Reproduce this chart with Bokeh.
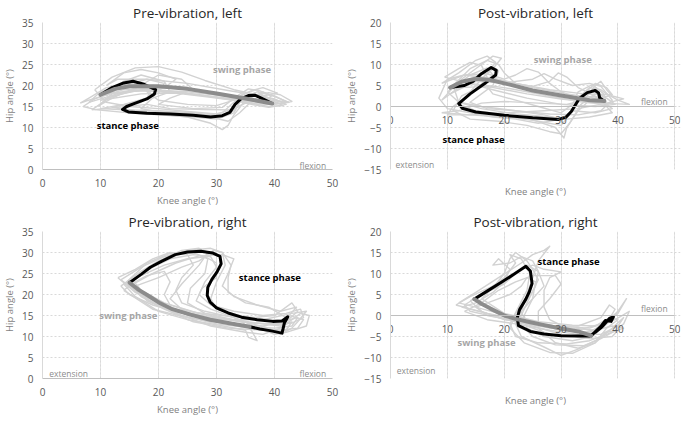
from bokeh.plotting import figure
from bokeh.models import (ColumnDataSource, Label, LinearAxis, SingleIntervalTicker,
                          FixedTicker, Range1d, Grid)
from bokeh.layouts import gridplot
from bokeh.embed import file_html
from bokeh.resources import INLINE

FONT = "Open Sans"

# ---------------- data (knee angle, hip angle) ----------------
# Pre-vibration, left
P1_TRIALS = [
    [(9,19),(12,22),(16,24.2),(20,24.5),(24,23.2),(28,21.2),(33,19),(38,17.5),(41,16.2),(39,15.5),(35,15.8),(33,14.5),(30,13.2),(25,13.8),(20,14.5),(15,15),(11,16),(9,19)],
    [(6.5,15.8),(8,17),(11,19.5),(15,20.5),(19,19.5),(18,17),(14,15.5),(10,14.5),(14,14.2),(20,14),(26,13.5),(31,12.5),(33,14),(34.5,17),(37,18.5),(40,17.5),(42,16.2),(38,16.5),(30,18),(22,19.5),(14,19),(8,16.5),(6.5,15.8)],
    [(9.5,15),(12,17),(16,19.5),(20,19),(17,16),(14,14.5),(18,13.5),(25,12.5),(29,11),(31,9.5),(32,10.5),(33,13),(35,16.5),(38,18.5),(42.5,16),(40,15.5),(33,17.2),(25,18.5),(18,19),(12,18),(9.5,15)],
    [(8.5,14.2),(13,14.8),(18,15.5),(22,14.5),(28,14.3),(32,14.2),(34,15),(36,17.5),(39,18.3),(41,17.8),(43,16.2),(40,15.6),(35,16.5),(28,17.6),(22,18.5),(17,19),(12,17.5),(8.5,14.2)],
    [(11,17.5),(14,21),(17,22.5),(21,21),(22,18.5),(19,17),(17,14.5),(22,13.2),(28,12.8),(31,13.5),(33,16),(34.5,18),(37,19),(39.5,17.5),(38,16.2),(32,17.5),(26,19),(19,20),(13,19.2),(11,17.5)],
    [(8,16),(10,18.5),(14,20),(18,21.5),(21,20.5),(20,18.2),(16,16),(12,14.8),(16,13.8),(24,13.5),(29,12.5),(32,11.5),(34,13.5),(36,16.2),(39,16.8),(41.5,15.2),(39,15.0),(33,16.5),(27,17.8),(20,19),(14,18.5),(8,16)],
    [(10,16.5),(15,18.5),(20,22.5),(24,21.5),(26,19),(22,17),(20,15.5),(26,14.5),(31,14.8),(33.5,17.5),(35.5,19.2),(37,18.8),(39,16.5),(36,16.0),(30,17.2),(24,18.2),(17,18),(10,16.5)],
    [(7,15),(9,16.8),(12,18.2),(16,18.8),(20,18.5),(24,18),(29,17.2),(33,16.5),(36,15.5),(39,14.8),(42,15.5),(40,16.8),(36,18),(34,16),(33,13.5),(30,12),(26,12.5),(20,13),(14,13.6),(9,14.3),(7,15)],
    [(11,20),(14,23),(17,23.8),(20,23),(23,21.5),(21,19.5),(18,18.5),(20,16.5),(25,15.5),(30,15.2),(33,16.5),(36,18.8),(38,19.5),(40.5,18.2),(38,17.5),(32,18.8),(25,20.5),(18,21.5),(13,21.5),(11,20)],
]
P1_STANCE = [(10,17.8),(12,19.5),(14,20.6),(15.6,21),(17.5,20.3),(19.5,19),(19.3,18),(18,16.8),(16,15.8),(14.5,15),(13.8,14.3),(14.8,13.7),(18,13.4),(22,13.2),(26,12.9),(29,12.5),(31,12.8),(32.3,13.6),(33.2,15.5),(34.2,16.8),(35.5,17.6),(36.6,17.7),(38,16.8),(39.6,15.7)]
P1_SWING = [(39.6,15.7),(35,16.9),(30,18.1),(25,19.2),(20,19.8),(15,19.8),(12.5,19.2),(10,17.8)]

# Post-vibration, left
P2_TRIALS = [
    [(9,5.5),(12,8),(15,11),(17,12),(18.5,10.5),(17,8),(15,5),(13,2),(12,0.5),(15,-1),(20,-2),(26,-3.5),(30,-4.5),(31.5,-2),(33,2),(35,4.5),(37,4),(38.5,2.5),(36,2),(31,3),(25,4.5),(19,6.5),(13,7.5),(9,5.5)],
    [(9,1.5),(11,4.5),(14,7.5),(17,9.2),(18,7.5),(15,4),(11,0),(10,-2),(14,-2),(20,-2.5),(25,-3.2),(29,-5),(30.5,-7.5),(31,-5),(33,-1),(35,1.5),(38,3),(40,1.5),(42,0.5),(37,0.8),(30,1.8),(24,3),(17,4.8),(12,4.5),(9,1.5)],
    [(10,6.5),(13,7.5),(17,7.8),(20,6.5),(22,7.5),(24,9),(26,8.2),(28,5.5),(30,3.5),(33,2),(36,2.5),(39,-0.5),(36,-1.5),(32,-1),(30,-3),(26,-4),(22,-3),(18,-2.5),(14,-1.5),(10,-0.5),(8.5,2),(10,6.5)],
    [(11,5),(14,9),(17,11),(19,10),(20,8),(22,5.5),(25,4.8),(28,6),(29.5,8),(31,7),(33,4.5),(35,3.2),(37,1.5),(39,-1.5),(35,-2.5),(31,-3),(28,-2.5),(22,-1.8),(16,-0.5),(12,1),(11,5)],
    [(9,-1.5),(12,-1),(16,0.8),(20,1.2),(26,0.8),(31,0.5),(34,1.5),(36,5),(37,6),(38,4),(39,2.5),(41,1.8),(38,0.8),(33,-0.5),(27,-1),(20,-1.5),(14,-2),(9,-1.5)],
    [(10.5,3),(14,6),(16,8),(18,9.5),(19,8.5),(18,5),(16,3),(14,1),(17,-0.5),(22,-1),(27,-2),(30,-3),(32,-1),(34,3),(36,5.5),(38,4.5),(39,2.8),(34,3),(28,4),(22,5.5),(15,6),(10.5,3)],
    [(12,6),(16,10),(18,12),(19.5,11.5),(18,9),(16,6.5),(18,3),(22,1.5),(26,0),(30,-1.5),(32,0.5),(33,3.5),(35.5,5.2),(37.5,3),(38,0.5),(34,1),(28,2.5),(20,4.5),(14,5.5),(12,6)],
    [(9.5,7),(12,9),(14,10.5),(16,9.8),(17,7),(15.5,4.5),(12.5,2.5),(11,-1),(14,-3),(19,-3.5),(24,-4.5),(28,-6),(30,-6.5),(31.5,-4),(33.5,0.5),(36,3),(38,2),(39.5,0.5),(36,0),(30,0.5),(24,2),(18,4),(13,5.8),(9.5,7)],
    [(10,3.5),(13,6.2),(15,7),(18,6.5),(21,5.8),(25,6.5),(27,7.8),(29,6.5),(32,5),(35,5.5),(37,4.8),(39,1.5),(37,-1),(33,-2),(28,-1.8),(22,-1),(16,0),(12,1),(10,3.5)],
]
P2_STANCE = [(10.5,4.5),(13,5),(14.5,6),(16,7.8),(17.7,9.3),(18.6,8.6),(18.5,7.5),(16.5,5.4),(14,3),(12,0.7),(12.6,-0.4),(15,-1.3),(20,-2.1),(25,-2.7),(29.5,-3.1),(30.8,-2.6),(31.8,-1.2),(33.2,1.9),(34.6,3.3),(36,3.8),(36.6,3.2),(36.8,2.0),(37.6,1.3)]
P2_SWING = [(37.6,1.3),(35,1.5),(30,2.6),(25,3.8),(21,5.2),(17.5,6.3),(15,6.6),(12.5,5.9),(10.5,4.5)]

# Pre-vibration, right
P3_TRIALS = [
    [(13.5,23.5),(17,26.5),(21,29),(25,30.5),(29,31),(31,30),(31.5,27),(30,23),(29,19),(30,16.5),(34,15),(39,14),(42,13.8),(44,14.5),(43,12.5),(40,12),(35,12.5),(28,14),(22,16.5),(17,20),(13.5,23.5)],
    [(14.5,23),(18,27.5),(22,29.8),(26,30),(28.5,28.5),(28,25),(25.5,21.5),(25,18),(28,15.5),(33,14),(38,13),(41,12.5),(43,13.5),(42,11.5),(38,11.5),(32,12),(26,13.5),(21,16.5),(17,19.5),(14.5,23)],
    [(15,22),(19,25),(23,27.5),(27,29.2),(31,29.5),(33,28.5),(32,25),(31,22),(33,19.5),(37,17.5),(41,16),(43.8,17),(42.5,15),(45,14),(44,12),(41,11.5),(36,12),(30,13),(24,15),(19,18),(15,22)],
    [(13,24),(16,26),(19,28.5),(22,30),(25,29.5),(26,27),(24,24),(23,21),(24,18),(28,16),(33,14.5),(37,12.2),(40,10.5),(42,11),(45.5,12.5),(46,15),(44.5,15.5),(42,13),(36,13.2),(28,14.8),(20,17.5),(16,20.5),(13,24)],
    [(14,22.5),(17,24.5),(21,27),(25,28.5),(28,29),(30,27.5),(30,24),(27.5,21.5),(26.5,18.5),(29,16.5),(34,14),(36,11.5),(37,9),(35.5,9.8),(35,11.5),(30,12.8),(25,14),(20,16),(16,19.5),(14,22.5)],
    [(15.5,23.5),(19,26.5),(22,28.5),(26,29.5),(29,29),(30,26.5),(28,23),(27,20),(29,17.5),(33,16),(38,15),(42,15.5),(44.5,16.5),(45,14.5),(43,13.2),(40,12.8),(34,13.5),(27,15.5),(21,18),(17,21),(15.5,23.5)],
    [(14,21),(16,23),(18,24.5),(21,25.5),(22,23),(21,20),(22,17.5),(26,15.8),(31,15),(36,14.5),(40,15),(43,18),(44,16),(42,13.5),(38,12.5),(32,13),(25,14.5),(19,16.5),(14,21)],
    [(16,22),(20,24),(24,26.5),(27,28),(29.5,30.5),(31,30),(32.5,27),(32,24),(32,20.5),(35,18),(39,17),(42,14.5),(41,12),(38,10.5),(35,11),(29,12.5),(23,15.5),(18,18.5),(16,22)],
    [(13.5,22),(17,25.5),(20,28),(24,30.5),(27,31),(28.5,30),(27,27),(24,22.5),(22,19),(24,16.5),(30,14.5),(35,13.5),(39,12),(41,10.5),(43,12),(44,13.5),(45.5,16),(43,15.5),(38,14),(31,14),(24,15.5),(19,17.5),(15,20),(13.5,22)],
]
P3_STANCE = [(15,22.8),(17,24.8),(18.6,26.5),(20.5,27.9),(22.9,29.5),(25,30.1),(27.3,30.3),(29.3,29.9),(30.6,29.1),(30.8,27.3),(30.1,25.4),(29.2,23.6),(28.5,21.7),(28.4,19.8),(28.9,18.2),(30,16.8),(32,15.6),(34.3,14.6),(37,14),(39.7,13.6),(41.3,13.7),(42.3,14.7),(41.7,13.2),(41.3,10.8),(39.2,11.4),(37.5,11.8),(35.7,12.3)]
P3_SWING = [(35.7,12.3),(32,13.2),(28.9,14.0),(25.5,15.2),(22.4,16.5),(20.3,17.9),(18.6,19.4),(16.6,21.1),(15,22.8)]

# Post-vibration, right
P4_TRIALS = [
    [(12,3),(15,5.5),(19,9),(23,12.5),(25,14.5),(27,15.5),(28,16.5),(26,13),(25,9),(24,5),(23,1),(24,-2.5),(28,-4.5),(33,-5),(36,-3.5),(38.5,-1),(40,1),(38,-1.5),(35,-4),(30,-3.5),(24,-1.5),(19,0.5),(15,2),(12,3)],
    [(13,2.5),(16,5),(20,7.5),(22,10),(24,12),(26,10.5),(27,7),(25,4),(23,1),(22,-2),(23,-5),(27,-7.5),(30,-9.5),(33,-8),(36,-6),(38,-4),(40,-3.5),(39,-5),(35,-5.5),(30,-4.5),(25,-2.5),(19,-0.5),(14,1),(13,2.5)],
    [(11.5,2.5),(14,4.5),(18,7),(21,9.5),(23,11),(25,12),(27,11),(30,10.4),(28,9),(27,6),(27,2),(28,-1),(31,-3),(34,-4),(37,-3),(39,-1),(41.5,4),(40,0.5),(37,-2),(33,-3.5),(28,-3),(22,-1.5),(17,0.5),(11.5,2.5)],
    [(14,3.5),(17,6),(20,9),(22,12.5),(21,14.5),(23,13.5),(24.5,10),(24,6),(22.5,2),(21,-2),(22,-5),(26,-6.5),(31,-6.8),(35,-6),(38,-4.5),(41,-3),(39,-2.5),(36,-3.5),(32,-3),(26,-2),(20,-1),(16,1),(14,3.5)],
    [(15,2),(18,3.5),(21,5),(23,7),(24,9),(25.5,8),(25,4),(23.5,0),(24,-3),(27,-5),(32,-6),(35.5,-5),(38,-2),(39.5,1.5),(38.5,2.5),(37,-0.5),(33,-2.5),(27,-2.5),(21,-1),(17,0),(15,2)],
    [(13,1),(16,3),(19,6),(22,8),(25,9.5),(29,9.5),(30,7.5),(28,4),(26,1),(26,-3),(29,-6.5),(33,-7.8),(36,-6.5),(39,-3),(41,-0.5),(40,-2.5),(37,-4.5),(33,-4.5),(28,-3.5),(22,-2),(17,-1),(13,1)],
    [(16,4),(18,6.5),(20,10),(21,13.5),(22,15),(24,13),(25,11),(26,8.5),(24.5,4.5),(22,0.5),(21,-3),(23.5,-6.5),(28,-8.8),(32,-9),(36,-6.5),(38,-3),(40,-1),(38.5,-0.5),(36,-2.5),(32,-2.3),(26,-1.5),(20,0.5),(16,4)],
    [(12.5,2),(15,3),(18,5.5),(20,8),(21,11),(19,13.5),(18,12),(21,12.5),(23,14),(25,13),(26,10.5),(25.5,7),(24,3),(22.5,-1.5),(25,-5),(29,-7),(34,-7.2),(37,-5.5),(39,-4),(41,-2),(42,1),(39.5,-1),(35,-3),(29,-2.5),(23,-1),(17,0.5),(12.5,2)],
]
P4_STANCE = [(14.75,3.9),(17,5.8),(19.5,7.9),(21.7,9.8),(23.8,11.7),(24.6,10.6),(24.9,7.6),(24.4,5.6),(23.8,3.9),(22.7,1.4),(22.3,-0.5),(22.5,-2.4),(24.6,-3.8),(27,-4.4),(30,-4.8),(33,-4.9),(35,-4.9),(36,-4.0),(37.2,-2.7),(38.5,-0.7),(39.2,-0.3),(38.8,-1.4),(37.8,-1.2),(37,-2.6),(35.3,-4.8)]
P4_SWING = [(35.3,-4.8),(33,-3.8),(30,-3.1),(27,-2.3),(24.6,-1.6),(22,-0.8),(20.2,-0.1),(17.5,1.7),(16,2.8),(14.75,3.9)]

TITLES = ["Pre-vibration, left", "Post-vibration, left", "Pre-vibration, right", "Post-vibration, right"]
Y_RANGES = [(0, 35), (-15, 20), (0, 35), (-15, 20)]
X_LABEL = "Knee angle (°)"
Y_LABEL = "Hip angle (°)"

TRIAL_COLOR = "#d2d2d2"
STANCE_COLOR = "#000000"
SWING_COLOR = "#8c8c8c"
LABEL_GREY = "#8c8c8c"
SWING_TXT = "#a6a6a6"


def xs_ys(curve):
    return [p[0] for p in curve], [p[1] for p in curve]


def style_tick_labels(ax):
    ax.major_tick_line_color = None
    ax.minor_tick_line_color = None
    ax.major_label_standoff = 3
    ax.major_label_text_font = FONT
    ax.major_label_text_font_size = "10px"
    ax.major_label_text_color = "#595959"


def style_axis_label(ax, standoff):
    ax.axis_label_standoff = standoff
    ax.axis_label_text_font = FONT
    ax.axis_label_text_font_size = "9.5px"
    ax.axis_label_text_font_style = "normal"
    ax.axis_label_text_color = "#7f7f7f"


def make_panel(title, yr, trials, stance, swing, notes, post):
    x_end = 51 if post else 50
    p = figure(width=342, height=209, x_range=Range1d(0, x_end), y_range=Range1d(*yr),
               output_backend="svg", toolbar_location=None,
               min_border_left=2, min_border_right=10 if not post else 4,
               min_border_top=2, min_border_bottom=2,
               x_axis_location=None)
    p.title.text = title
    p.title.align = "center"
    p.title.text_font = FONT
    p.title.text_font_size = "13.5px"
    p.title.text_font_style = "normal"
    p.title.text_color = "#262626"
    p.title.standoff = 2
    p.outline_line_color = None

    xticker = SingleIntervalTicker(interval=10)
    if post:
        # horizontal axis crosses at hip angle 0
        xax = LinearAxis(ticker=xticker, fixed_location=0, bounds=(0, 50))
        xax.axis_line_color = "#bfbfbf"
        style_tick_labels(xax)
        p.add_layout(xax, "below")
        # axis title kept at the bottom edge
        xlab = LinearAxis(ticker=FixedTicker(ticks=[25]), axis_label=X_LABEL,
                          major_label_overrides={25: " "})
        xlab.axis_line_color = None
        style_tick_labels(xlab)
        xlab.major_label_standoff = 0
        xlab.major_label_text_font_size = "1px"
        style_axis_label(xlab, 5)
        p.add_layout(xlab, "below")
    else:
        xax = LinearAxis(ticker=xticker, axis_label=X_LABEL)
        xax.axis_line_color = "#bfbfbf"
        style_tick_labels(xax)
        style_axis_label(xax, 4)
        p.add_layout(xax, "below")

    p.yaxis.ticker = SingleIntervalTicker(interval=5)
    p.yaxis.axis_label = Y_LABEL
    p.yaxis.axis_line_color = "#d9d9d9"
    style_tick_labels(p.yaxis[0])
    style_axis_label(p.yaxis[0], 3)

    g1 = Grid(dimension=0, ticker=xticker)
    p.add_layout(g1, "center")
    for g in [g1, p.ygrid[0]]:
        g.grid_line_color = "#d9d9d9"
        g.grid_line_dash = "2 2"
        g.grid_line_width = 1

    txs, tys = [], []
    for t in trials:
        a, b = xs_ys(t)
        txs.append(a)
        tys.append(b)
    p.multi_line(xs="xs", ys="ys", source=ColumnDataSource(dict(xs=txs, ys=tys)),
                 line_color=TRIAL_COLOR, line_width=1.4, line_join="round")
    sx, sy = xs_ys(stance)
    p.line(x="x", y="y", source=ColumnDataSource(dict(x=sx, y=sy)),
           line_color=STANCE_COLOR, line_width=3, line_join="round", line_cap="round")
    wx, wy = xs_ys(swing)
    p.line(x="x", y="y", source=ColumnDataSource(dict(x=wx, y=wy)),
           line_color=SWING_COLOR, line_width=4, line_join="round", line_cap="round")

    for (x, y, txt, kind) in notes:
        if kind == "stance":
            col, size, style = "#000000", "9.5px", "bold"
        elif kind == "swing":
            col, size, style = SWING_TXT, "9.5px", "bold"
        else:
            col, size, style = LABEL_GREY, "8.5px", "normal"
        p.add_layout(Label(x=x, y=y, text=txt, text_align="center", text_baseline="middle",
                           text_font=FONT, text_font_size=size, text_font_style=style,
                           text_color=col))
    return p


p1 = make_panel(TITLES[0], Y_RANGES[0], P1_TRIALS, P1_STANCE, P1_SWING,
                [(34.4, 23.7, "swing phase", "swing"), (14.7, 10.5, "stance phase", "stance"),
                 (46.6, 1.0, "flexion", "dir")], False)
p2 = make_panel(TITLES[1], Y_RANGES[1], P2_TRIALS, P2_STANCE, P2_SWING,
                [(30.3, 11.1, "swing phase", "swing"), (14.6, -7.8, "stance phase", "stance"),
                 (46.4, 1.3, "flexion", "dir"), (3.5, 21.3, "flexion", "dir"),
                 (4.3, -13.7, "extension", "dir")], True)
p3 = make_panel(TITLES[2], Y_RANGES[2], P3_TRIALS, P3_STANCE, P3_SWING,
                [(39.2, 24.0, "stance phase", "stance"), (14.8, 14.9, "swing phase", "swing"),
                 (3.6, 36.8, "flexion", "dir"), (4.5, 1.3, "extension", "dir"),
                 (46.6, 1.2, "flexion", "dir")], False)
p4 = make_panel(TITLES[3], Y_RANGES[3], P4_TRIALS, P4_STANCE, P4_SWING,
                [(31.3, 12.9, "stance phase", "stance"), (16.9, -6.5, "swing phase", "swing"),
                 (3.6, 21.5, "flexion", "dir"), (4.5, -13.2, "extension", "dir"),
                 (46.4, 1.6, "flexion", "dir")], True)

layout = gridplot([[p1, p2], [p3, p4]], toolbar_location=None)
open("out.html", "w").write(file_html(layout, INLINE))
